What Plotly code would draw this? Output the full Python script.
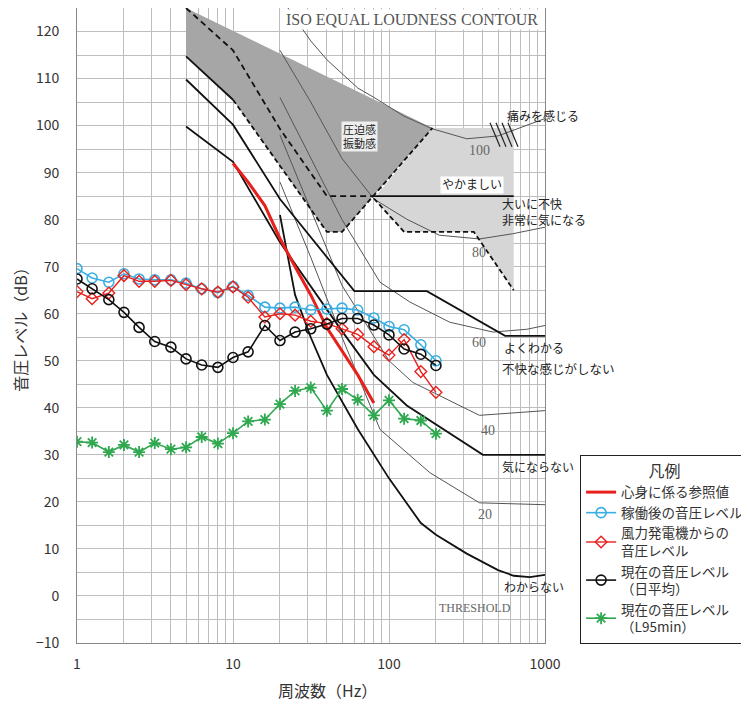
import math
import plotly.graph_objects as go

# ---------------- data (1/3 octave bands) ----------------
freq = [1, 1.25, 1.6, 2, 2.5, 3.15, 4, 5, 6.3, 8, 10, 12.5, 16, 20, 25, 31.5, 40, 50, 63, 80, 100, 125, 160, 200]
after_operation = [69.6, 67.6, 66.7, 68.5, 67.4, 67.2, 67.2, 66.5, 65.3, 64.5, 65.8, 63.9, 61.4, 61.2, 61.4, 60.8, 61.0, 61.2, 60.8, 59.1, 57.3, 56.6, 53.4, 50.0]
turbine = [64.7, 63.2, 64.4, 68.1, 66.9, 66.9, 67.1, 66.2, 65.3, 64.6, 65.7, 63.5, 59.3, 60.0, 59.7, 58.4, 57.9, 56.8, 55.6, 53.0, 51.2, 54.5, 47.7, 43.3]
current_avg = [67.4, 65.3, 63.0, 60.3, 57.1, 54.1, 52.9, 50.4, 49.1, 48.6, 50.7, 51.9, 57.5, 54.3, 56.1, 56.8, 57.8, 59.0, 59.0, 57.6, 55.5, 52.5, 51.4, 49.0]
current_l95 = [32.8, 32.6, 30.6, 32.1, 30.6, 32.5, 31.2, 31.6, 33.8, 32.4, 34.6, 37.1, 37.5, 40.8, 43.6, 44.3, 39.4, 44.0, 41.7, 38.4, 41.6, 37.7, 37.3, 34.5]
ref_freq = [10, 12.5, 16, 20, 25, 31.5, 40, 50, 63, 80]
ref_level = [92, 88, 83, 76, 70, 64, 57, 52, 47, 41]

# ---------------- background (equal-loudness chart) ----------------
dark_f = [5, 190, 50, 40, 10, 5]
dark_db = [125, 99.5, 77.4, 77.4, 105.5, 114.7]
light_f = [190, 630, 630, 350, 125, 80]
light_db = [99.5, 99.5, 65, 77.4, 77.4, 84.5]

l1a_f = [5, 10, 20, 40, 80]
l1a_db = [125, 116, 99.3, 85, 85]
l1b_f = [80, 630]
l1b_db = [85, 85]
l2a_f = [5, 10]
l2a_db = [114.7, 105.5]
l2b_f = [10, 40, 50, 190]
l2b_db = [105.5, 77.4, 77.4, 99.5]
lb_f = [80, 125, 350, 630]
lb_db = [84.5, 77.4, 77.4, 65]
l3_f = [5, 10, 20, 60, 175, 555, 1000]
l3_db = [109.8, 100.2, 84.4, 64.8, 64.8, 55.3, 55.3]
l4_f = [5, 10, 20, 50, 80, 130, 400, 1000]
l4_db = [99.8, 92.3, 75.2, 56.3, 47, 40.5, 30, 30]
thr_f = [20, 25, 31.5, 40, 63, 100, 160, 200, 315, 500, 630, 800, 1000]
thr_db = [81, 64, 55, 47, 35.5, 25, 15.5, 13, 9, 5.5, 4.3, 4.0, 4.5]

c100_f = [22.5, 31.5, 40, 50, 63, 80, 100, 125, 190, 315, 500, 630, 1000]
c100_db = [125, 118, 114, 111, 108, 106, 104, 102, 99.3, 97.2, 97.8, 99, 101.5]
c80_f = [20, 31.5, 50, 80, 130, 210, 380, 620, 1000]
c80_db = [116, 105, 93, 84.4, 80.1, 76.7, 75.9, 77, 78.4]
c60_f = [20, 31.5, 50, 87.6, 136, 245, 465, 765, 1000]
c60_db = [106, 93, 80, 66.7, 62.5, 58.2, 56.1, 56.7, 57.5]
c40_f = [20, 31.5, 50, 100, 142, 380, 1000]
c40_db = [98, 82, 66, 50, 45.4, 38.4, 39.4]
c20_f = [20, 31.5, 50, 87.6, 183, 380, 1000]
c20_db = [88, 72, 55, 35.4, 26.2, 19.8, 19.4]

hatch_f = [444, 515, None, 485, 562, None, 530, 614, None, 579, 671]
hatch_db = [100.6, 95.5, None, 100.6, 95.5, None, 100.6, 95.5, None, 100.6, 95.5]

fig = go.Figure()

def bg_fill(fx, fy, color):
    fig.add_trace(go.Scatter(x=fx, y=fy, mode="lines", fill="toself", fillcolor=color,
                             line=dict(width=0), hoverinfo="skip", showlegend=False))

def bg_line(fx, fy, width, dash="solid", color="#111111"):
    fig.add_trace(go.Scatter(x=fx, y=fy, mode="lines", line=dict(color=color, width=width, dash=dash),
                             hoverinfo="skip", showlegend=False, connectgaps=False))

bg_fill(light_f, light_db, "#d6d6d6")
bg_fill(dark_f, dark_db, "#a6a6a6")

for cf, cd in [(c100_f, c100_db), (c80_f, c80_db), (c60_f, c60_db), (c40_f, c40_db), (c20_f, c20_db)]:
    bg_line(cf, cd, 1, color="#555555")

bg_line(hatch_f, hatch_db, 1.2, color="#222222")
bg_line(l1a_f, l1a_db, 1.8, dash="6px,4px")
bg_line(l1b_f, l1b_db, 1.8)
bg_line(l2a_f, l2a_db, 1.8)
bg_line(l2b_f, l2b_db, 1.8, dash="5px,3px")
bg_line(lb_f, lb_db, 1.8, dash="5px,3px")
bg_line(l3_f, l3_db, 1.8)
bg_line(l4_f, l4_db, 1.8)
bg_line(thr_f, thr_db, 1.8)

# ---------------- measured series ----------------
fig.add_trace(go.Scatter(x=ref_freq, y=ref_level, mode="lines", name="心身に係る参照値",
                         line=dict(color="#e8201c", width=3)))
fig.add_trace(go.Scatter(x=freq, y=after_operation, mode="lines+markers", name="稼働後の音圧レベル",
                         line=dict(color="#3aaee2", width=1.6),
                         marker=dict(symbol="circle-open", size=10, color="#3aaee2", line=dict(width=1.6))))
fig.add_trace(go.Scatter(x=freq, y=turbine, mode="lines+markers", name="風力発電機からの<br>音圧レベル",
                         line=dict(color="#e8201c", width=1.4),
                         marker=dict(symbol="diamond-open", size=9, color="#e8201c", line=dict(width=1.4))))
fig.add_trace(go.Scatter(x=freq, y=current_avg, mode="lines+markers", name="現在の音圧レベル<br>（日平均）",
                         line=dict(color="#111111", width=1.6),
                         marker=dict(symbol="circle-open", size=10, color="#111111", line=dict(width=1.6))))
fig.add_trace(go.Scatter(x=freq, y=current_l95, mode="lines+markers", name="現在の音圧レベル<br>（L95min）",
                         line=dict(color="#2fa84f", width=1.6),
                         marker=dict(symbol="asterisk-open", size=10, color="#2fa84f", line=dict(width=1.8))))

# ---------------- text ----------------
SERIF = "Liberation Serif, Noto Sans CJK JP"
JP = "Noto Sans CJK JP"
L = math.log10

def note(text, f, db, size=12, color="#222", anchor="center", bg=None, family=SERIF):
    fig.add_annotation(x=L(f), y=db, text=text, showarrow=False, xanchor=anchor, yanchor="middle",
                       font=dict(size=size, color=color, family=family),
                       bgcolor=bg, borderpad=1)

note("ISO EQUAL LOUDNESS CONTOUR", 140, 122.6, size=16, color="#555", bg="white")
note("THRESHOLD", 356, -2.5, size=12, color="#666")
note("100", 380, 94.8, size=14, color="#666")
note("80", 380, 73.1, size=14, color="#666")
note("60", 380, 53.9, size=14, color="#666")
note("40", 430, 35.2, size=14, color="#666")
note("20", 410, 17.3, size=14, color="#666")
note("圧迫感<br>振動感", 65, 97.6, size=11, bg="#eeeeee")
note("やかましい", 340, 87.4, size=12, bg="white")
note("痛みを感じる", 550, 101.9, size=12, anchor="left")
note("大いに不快", 515, 83.1, size=12, anchor="left")
note("非常に気になる", 515, 79.9, size=12, anchor="left")
note("よくわかる", 530, 52.4, size=12, anchor="left")
note("不快な感じがしない", 515, 48.2, size=12.5, anchor="left")
note("気にならない", 515, 27.3, size=12, anchor="left")
note("わからない", 530, 1.7, size=12, anchor="left")

fig.add_annotation(x=0.535, y=-0.074, xref="paper", yref="paper", text="周波数（Hz）", showarrow=False,
                   xanchor="center", yanchor="middle", font=dict(size=16, color="#333", family=JP))

xt = []
for d in [1, 10, 100]:
    for m in range(1, 10):
        xt.append(m * d)
xt.append(1000)
xtt = [str(v) if v in (1, 10, 100, 1000) else "" for v in xt]
yt = list(range(-10, 126, 5))
ytt = [("−10" if v == -10 else str(v)) if v % 10 == 0 and v <= 120 else "" for v in yt]

# page has an 8px body margin, so the figure is offset by (8, 8)
fig.update_layout(
    width=741, height=696,
    margin=dict(l=69, r=204, t=0, b=61, autoexpand=False),
    paper_bgcolor="white", plot_bgcolor="white",
    font=dict(family=JP, color="#333"),
    xaxis=dict(type="log", range=[0, 3], tickvals=xt, ticktext=xtt, showgrid=True, automargin=False,
               gridcolor="#bdbdbd", gridwidth=1, showline=True, linecolor="#888", mirror=True,
               ticks="", tickfont=dict(size=14, color="#333"), ticklabelstandoff=8, zeroline=False),
    yaxis=dict(range=[-10, 125], tickvals=yt, ticktext=ytt, showgrid=True, gridcolor="#bdbdbd",
               gridwidth=1, showline=True, linecolor="#888", mirror=True, ticks="", zeroline=False,
               automargin=False,
               tickfont=dict(size=14, color="#333"), ticklabelstandoff=14,
               title=dict(text="音圧レベル（dB）", font=dict(size=16, color="#333"), standoff=14)),
    legend=dict(x=1.075, y=0.296, xanchor="left", yanchor="top", bordercolor="#222", borderwidth=1,
                bgcolor="white", font=dict(size=13.5, color="#333", family=JP), itemwidth=30,
                tracegroupgap=0,
                title=dict(text="凡例", side="top center", font=dict(size=16, color="#333"))),
    showlegend=True,
)

fig.write_html("out.html")
